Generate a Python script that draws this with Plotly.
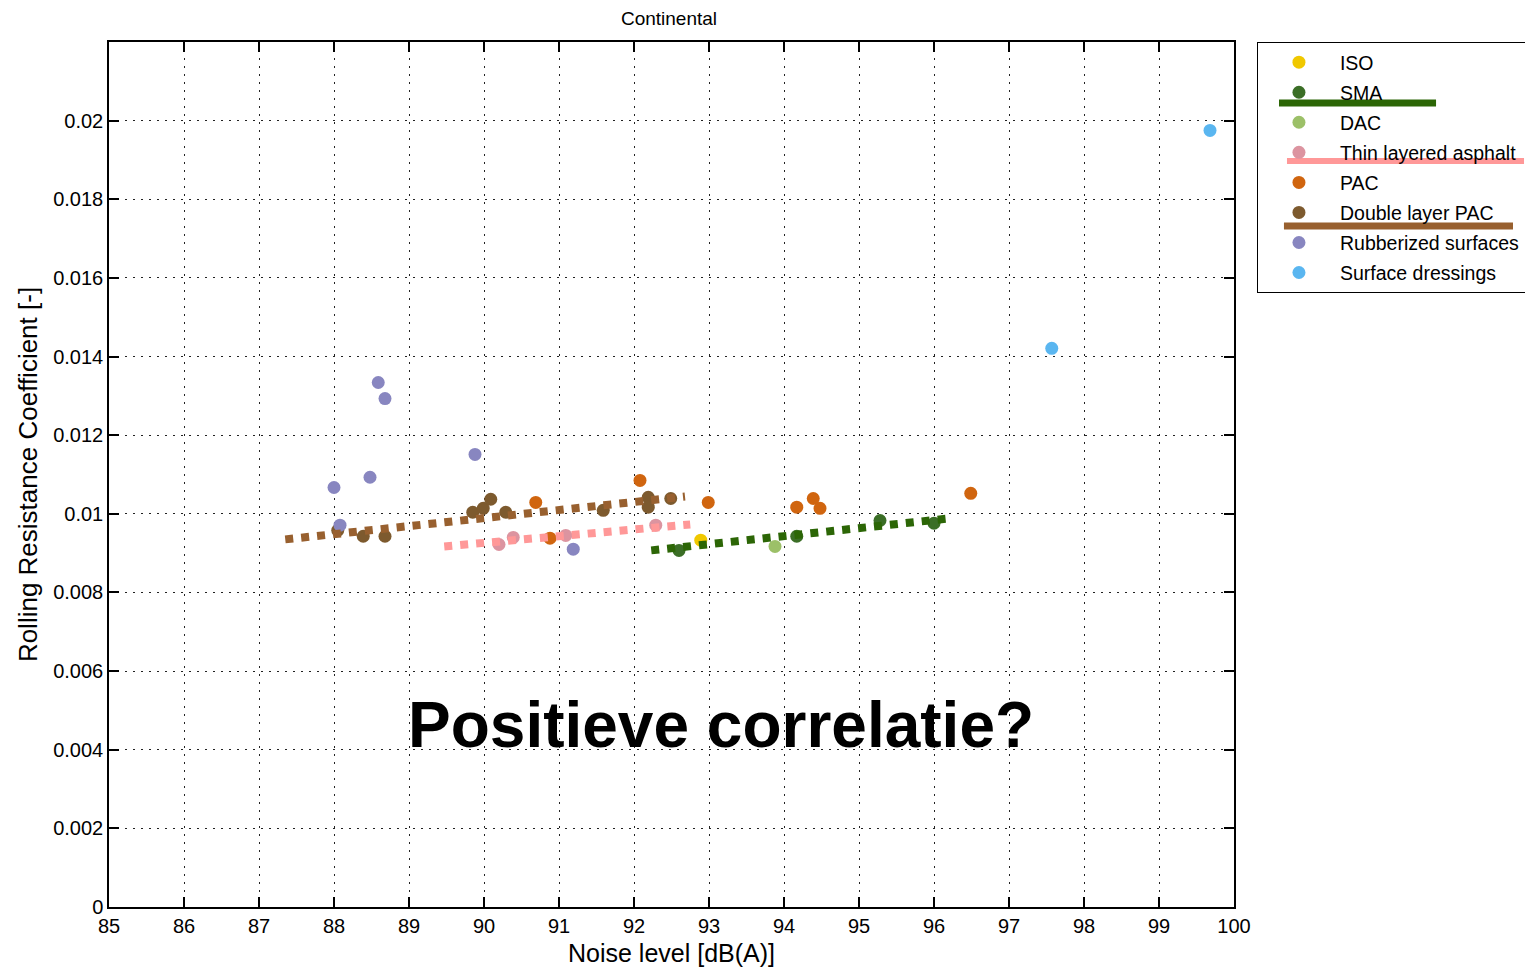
import plotly.graph_objects as go

# ---- data ----
iso_x = [92.89]
iso_y = [0.00933]

sma_x = [92.60, 94.17, 95.28, 96.00]
sma_y = [0.00907, 0.00943, 0.00983, 0.00976]

dac_x = [93.88]
dac_y = [0.00917]

thin_x = [90.20, 90.39, 91.09, 92.29]
thin_y = [0.00922, 0.00940, 0.00945, 0.00971]

pac_x = [90.69, 90.88, 92.08, 92.99, 94.17, 94.39, 94.48, 96.49]
pac_y = [0.01029, 0.00938, 0.01085, 0.01029, 0.01017, 0.01039, 0.01014, 0.01052]

dpac_x = [88.05, 88.39, 88.68, 89.85, 89.99, 90.09, 90.29, 91.59, 92.19, 92.19, 92.49]
dpac_y = [0.00958, 0.00943, 0.00943, 0.01004, 0.01014, 0.01037, 0.01004, 0.01009, 0.01042, 0.01017, 0.01039]

rub_x = [88.00, 88.08, 88.48, 88.59, 88.68, 89.88, 91.19]
rub_y = [0.01067, 0.00971, 0.01093, 0.01334, 0.01293, 0.01151, 0.00910]

sd_x = [97.57, 99.68]
sd_y = [0.01421, 0.01975]

# trend lines (end points)
trend_dpac_x = [87.35, 92.68]
trend_dpac_y = [0.00935, 0.01044]
trend_thin_x = [89.47, 92.75]
trend_thin_y = [0.00917, 0.00973]
trend_sma_x = [92.23, 96.24]
trend_sma_y = [0.00907, 0.00989]

x_ticks = list(range(85, 101))
y_ticks = [0, 0.002, 0.004, 0.006, 0.008, 0.01, 0.012, 0.014, 0.016, 0.018, 0.02]
y_tick_text = ["0", "0.002", "0.004", "0.006", "0.008", "0.01", "0.012", "0.014", "0.016", "0.018", "0.02"]

series = [
    ("ISO", iso_x, iso_y, "#f0c800"),
    ("SMA", sma_x, sma_y, "#3b6e26"),
    ("DAC", dac_x, dac_y, "#9cc068"),
    ("Thin layered asphalt", thin_x, thin_y, "#dc94a0"),
    ("PAC", pac_x, pac_y, "#d0650f"),
    ("Double layer PAC", dpac_x, dpac_y, "#7d5a2e"),
    ("Rubberized surfaces", rub_x, rub_y, "#8886c0"),
    ("Surface dressings", sd_x, sd_y, "#5ab6f0"),
]

FONT = "Liberation Sans, Arial, sans-serif"

fig = go.Figure()
for name, xs, ys, col in series:
    fig.add_trace(go.Scatter(
        x=xs, y=ys, mode="markers", name=name, legendgroup=name,
        marker=dict(size=13, color=col, line=dict(width=0)),
    ))

trends = [
    (trend_dpac_x, trend_dpac_y, "#98602f"),
    (trend_thin_x, trend_thin_y, "#ff9898"),
    (trend_sma_x, trend_sma_y, "#2c6606"),
]
for xs, ys, col in trends:
    fig.add_trace(go.Scatter(
        x=xs, y=ys, mode="lines", showlegend=False, hoverinfo="skip",
        line=dict(color=col, width=8, dash="dot"),
    ))

# colored strokes drawn across the legend (as in the reference)
legend_strokes = [
    (1.040, 1.1796, 0.9295, "#2c6606", 7),
    (1.0471, 1.2578, 0.8624, "#ff9898", 6),
    (1.0444, 1.2480, 0.7873, "#98602f", 7),
]
for x0, x1, yy, col, w in legend_strokes:
    fig.add_shape(type="line", xref="paper", yref="paper", x0=x0, x1=x1, y0=yy, y1=yy,
                  line=dict(color=col, width=w), layer="above")

fig.add_annotation(
    x=93.16, y=0.00462, xref="x", yref="y", text="<b>Positieve correlatie?</b>",
    showarrow=False, font=dict(family=FONT, size=64, color="black"),
)

axis_common = dict(
    showline=True, linecolor="black", linewidth=1.5, mirror="allticks",
    ticks="inside", ticklen=10, tickwidth=1.5, tickcolor="black",
    showgrid=True, gridcolor="#222222", gridwidth=1, griddash="2px,6px",
    zeroline=False, tickfont=dict(family=FONT, size=20, color="black"),
)

fig.update_xaxes(range=[85, 100], tickvals=x_ticks, title=dict(text="Noise level [dB(A)]",
                 font=dict(family=FONT, size=25, color="black"), standoff=9), **axis_common)
fig.update_yaxes(range=[0, 0.022], tickvals=y_ticks, ticktext=y_tick_text,
                 title=dict(text="Rolling Resistance Coefficient [-]",
                            font=dict(family=FONT, size=26, color="black"), standoff=8), **axis_common)

W, H = 1525, 963
fig.update_layout(
    width=W, height=H,
    margin=dict(l=101, r=299, t=34, b=64, autoexpand=False),
    plot_bgcolor="white", paper_bgcolor="white",
    title=dict(text="Continental", x=661 / W, xanchor="center", y=1 - 10 / H, yanchor="middle",
               font=dict(family=FONT, size=19, color="black")),
    legend=dict(x=1.0204, xanchor="left", y=1.0, yanchor="top",
                bordercolor="black", borderwidth=1, bgcolor="rgba(0,0,0,0)",
                font=dict(family=FONT, size=19.5, color="black"), itemwidth=72,
                tracegroupgap=1.7),
    showlegend=True,
)

fig.write_html("out.html")
